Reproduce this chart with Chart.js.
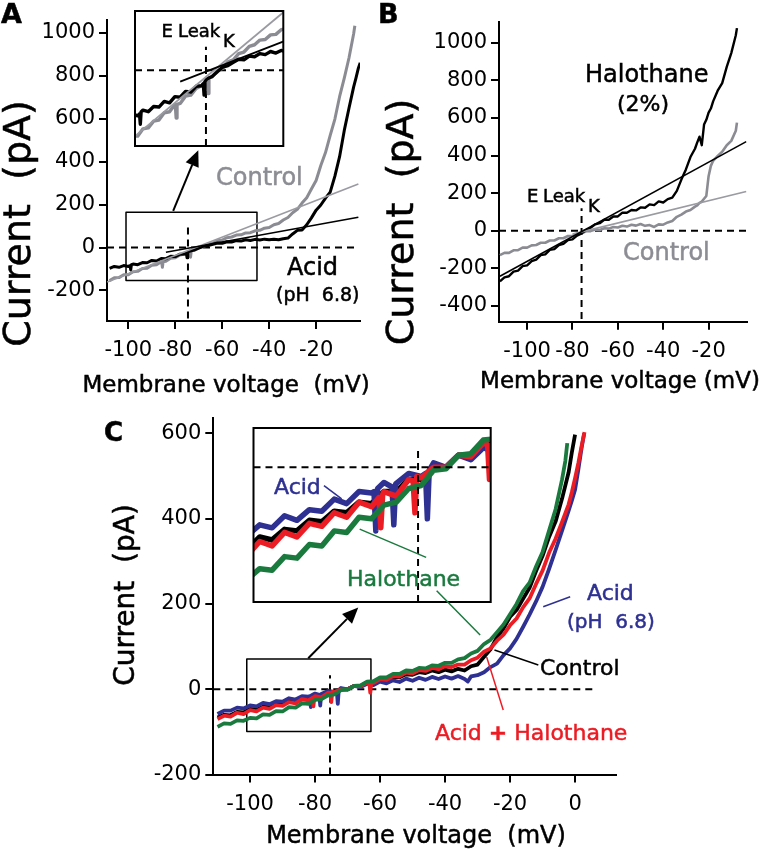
<!DOCTYPE html>
<html>
<head>
<meta charset="utf-8">
<script src="https://cdn.jsdelivr.net/npm/chart.js@4.4.0/dist/chart.umd.min.js"></script>
<style>
  body { margin: 0; background: #fff; }
  #wrap { position: relative; width: 762px; height: 853px; }
  #wrap canvas { position: absolute; left: 0; top: 0; }
</style>
</head>
<body>
<div id="wrap">
  <canvas id="mainA" width="762" height="853"></canvas>
  <canvas id="insetA" width="762" height="853"></canvas>
  <canvas id="mainB" width="762" height="853"></canvas>
  <canvas id="mainC" width="762" height="853"></canvas>
  <canvas id="insetC" width="762" height="853"></canvas>
</div>
<script>
// ---------- panel A : acid (pH 6.8) vs control ----------
const ticksAX = [-100, -80, -60, -40, -20];
const ticksAY = [-200, 0, 200, 400, 600, 800, 1000];

const acidAV = [-108,-106,-104,-102,-100,-99.3,-99,-98.7,-98,-96,-94,-92,-90,-88,-86,-84,-82,-80,-78,-76,
  -75.3,-75,-74.7,-74,-72,-70,-68,-66,-64,-62,-60,-58,-56,-54,-52,-50,-48,-46,-44,-42,-40,-38,-36,-34,
  -32,-30,-28,-26,-24,-22,-20,-18,-16,-14,-12,-10,-8,-6,-4,-3,-2,-1.2];
const acidAI = [-97,-88,-92,-84,-88,-84,-104,-80,-77,-80,-70,-71,-60,-63,-51,-52,-41,-42,-31,-30,
  -26,-48,-22,-17,-12,-3,6,9,15,21,20,27,26,32,30,36,33,38,35,39,36,39,36,41,
  44,63,80,82,106,138,174,198,230,258,332,423,545,648,748,790,835,860];

const ctrlAV = [-108,-106,-104,-102,-100,-98,-96,-94,-92,-90,-88,-86,-85.8,-85.5,-85.2,-84,-82,-80,-78,-76,
  -74,-73.8,-73.5,-73.2,-72,-70,-68,-66,-64,-62,-60,-58,-56,-54,-52,-50,-48,-46,-44,-42,-40,-38,-36,-34,
  -32,-30,-28,-26,-24,-22,-20,-18,-16,-14,-12,-10,-8,-6,-4,-3.5];
const ctrlAI = [-154,-141,-140,-127,-127,-113,-111,-98,-96,-82,-80,-66,-68,-92,-66,-64,-50,-48,-35,-30,
  -18,-17,-45,-15,-13,-1,4,16,20,32,35,46,49,58,59,68,69,78,80,90,93,106,112,128,
  140,162,178,207,232,272,312,382,442,522,598,702,788,882,995,1032];

const fitAcidAV = [-84, -2];
const fitAcidAI = [-22, 141];
const fitCtrlAV = [-109, -2];
const fitCtrlAI = [-161, 296];

// ---------- panel B : halothane (2%) vs control ----------
const ticksBX = [-100, -80, -60, -40, -20];
const ticksBY = [-400, -200, 0, 200, 400, 600, 800, 1000];

const voltB = [-112,-110,-108,-106,-104,-102,-100,-98,-96,-94,-92,-90,-88,-86,-84,-82,-80,-78,-76,-74,
  -72,-70,-68,-66,-64,-62,-60,-58,-56,-54,-52,-50,-48,-46,-44,-42,-40,-38,-36,-34,-32,-30,-28,-26,
  -25,-24,-23,-22,-21,-20,-19,-18,-16,-14,-12,-10,-8,-7.5];
const haloBI = [-270,-248,-242,-218,-212,-188,-184,-162,-154,-130,-126,-102,-98,-76,-70,-50,-46,-26,-14,4,
  16,34,40,58,58,76,76,96,96,110,108,124,122,140,136,156,150,168,176,212,272,326,392,436,
  470,500,455,565,590,628,650,688,745,785,872,945,1040,1078];
const ctrlBI = [-130,-118,-118,-104,-103,-90,-90,-78,-76,-64,-64,-52,-52,-40,-40,-28,-29,-16,-14,-3,
  -2,6,4,13,11,20,17,26,22,32,27,36,26,30,20,34,32,44,52,74,86,102,110,128,
  135,148,155,170,185,290,345,372,398,420,455,478,532,575];

const fitHaloBV = [-112, -3.4];
const fitHaloBI = [-242, 474];
const fitCtrlBV = [-80, -3.4];
const fitCtrlBI = [-18, 209];

// ---------- panel C : control, acid, halothane, acid + halothane ----------
const ticksCX = [-100, -80, -60, -40, -20, 0];
const ticksCY = [-200, 0, 200, 400, 600];

const acidCV = [-110,-108,-106,-104,-102,-100,-98,-96,-94,-92,-90,-88,-86,-84,-82,-81.6,-81.3,-81,-80,
  -78.7,-78.4,-78.1,-76,-74,-73.3,-73,-72.7,-72,-70,-68,-66,-64,-62,-60,-58,-56,-54,-52,-50,-48,-46,-44,
  -42,-40,-38,-36,-34,-33,-32,-30,-28,-26,-24,-22,-20,-18,-16,-14,-12,-10,-8,-6,-4,-2,-1,0,1,2,2.8];
const acidCI = [-58,-50,-50,-43,-45,-38,-40,-32,-35,-28,-29,-21,-24,-16,-17,-16,-42,-14,-10,
  -13,-38,-11,-4,-6,-4,-34,-2,3,0,8,5,13,10,18,14,21,17,25,20,27,22,29,
  24,30,25,31,24,18,30,33,40,52,60,80,96,118,146,175,206,240,282,326,372,418,442,468,515,565,600];

const acidHaloCV = [-110,-108,-106,-104,-102,-100,-98,-96,-94,-92,-90,-88,-86,-84,-82,-80.8,-80.5,-80.2,
  -80,-78,-76,-75.3,-75,-74.7,-74,-72,-70,-68,-66,-64,-63.3,-63,-62.7,-62,-60,-58,-56,-54,-52,-50,-48,
  -46,-44,-42,-40,-38,-36,-34,-32,-30,-28,-26,-24,-22,-20,-18,-16,-14,-12,-10,-8,-6,-4,-2,-1,0,1,2,2.9];
const acidHaloCI = [-70,-62,-64,-55,-58,-49,-52,-43,-46,-37,-39,-30,-33,-23,-26,-20,-40,-18,
  -16,-19,-8,-9,-30,-6,-7,0,0,8,7,16,15,-8,15,15,24,22,31,30,39,37,45,
  43,50,47,54,52,58,58,68,74,88,96,114,128,150,166,192,213,247,278,320,353,392,433,462,495,530,570,603];

const controlCV = [-110,-108,-106,-104,-102,-100,-98,-96,-94,-92,-90,-88,-86,-84,-82,-80,-78,-76,-74,-72,
  -70,-68,-66,-64,-62,-60,-58,-56,-54,-52,-50,-48,-46,-44,-42,-40,-38,-36,-34,-32,-30,-28,-26,-24,
  -22,-20,-18,-16,-14,-12,-10,-8,-6,-4,-2,-1,0];
const controlCI = [-66,-60,-61,-53,-54,-46,-48,-41,-42,-35,-36,-29,-30,-23,-24,-16,-16,-8,-8,0,
  0,8,8,16,16,23,22,29,28,35,34,40,38,44,40,46,42,48,44,54,58,76,94,122,
  143,170,186,212,238,277,313,357,393,447,508,555,597];

const haloCV = [-110,-108,-106,-104,-102,-100,-98,-96,-94,-92,-90,-88,-86,-84,-82,-80,-78,-76,-74,-72,
  -70,-68,-66,-64,-62,-60,-58,-56,-54,-52,-50,-48,-46,-44,-42,-40,-38,-36,-34,-32,-30,-28,-26,-24,
  -22,-20,-18,-16,-14,-12,-10,-8,-6,-4,-3,-2.4];
const haloCI = [-88,-80,-81,-73,-74,-67,-68,-59,-60,-51,-52,-42,-43,-33,-34,-25,-23,-14,-12,-2,
  -1,8,9,18,19,28,28,36,36,44,43,50,49,56,55,62,62,70,73,84,90,106,116,134,
  152,176,200,230,250,288,322,372,422,492,535,577];

const GRAY = '#8b8b93', GRAYTXT = '#8c8c94', BLUE = '#2e3192', RED = '#ec1c24', GREEN = '#1a7a3e';
const FONT = '"DejaVu Sans"';

Chart.defaults.font.family = FONT;

function pts(xs, ys) {
  return xs.map(function (x, i) { return { x: x, y: ys[i] }; });
}

function trace(xs, ys, color, width, dash) {
  return {
    data: pts(xs, ys), borderColor: color, borderWidth: width, borderDash: dash || [],
    showLine: true, pointRadius: 0, tension: 0, fill: false, borderJoinStyle: 'round'
  };
}

function dashed(xs, ys) { return trace(xs, ys, '#000', 2, [7, 5]); }

function axis(min, max, ticks, size, horizontal) {
  return {
    type: 'linear', min: min, max: max,
    afterBuildTicks: function (s) { s.ticks = ticks.map(function (v) { return { value: v }; }); },
    afterFit: function (s) { if (horizontal) s.height = size; else s.width = size; },
    border: { display: true, color: '#000', width: 2 },
    grid: { drawOnChartArea: false, drawTicks: true, tickLength: 8, color: '#000', lineWidth: 2 },
    ticks: {
      color: '#000', font: { size: 21 }, padding: horizontal ? 9 : 4,
      maxRotation: 0, autoSkip: false, callback: function (v) { return String(v); }
    }
  };
}

function hidden(min, max) { return { type: 'linear', display: false, min: min, max: max }; }

function drawText(ctx, t) {
  ctx.save();
  ctx.translate(t.x, t.y);
  if (t.rotate) ctx.rotate(-Math.PI / 2);
  ctx.fillStyle = t.color || '#000';
  ctx.strokeStyle = t.color || '#000';
  ctx.lineWidth = 0.5;
  ctx.textBaseline = t.baseline || 'alphabetic';
  ctx.textAlign = 'left';
  var parts = Array.isArray(t.text) ? t.text : [[t.text, t.bold]];
  var fonts = parts.map(function (p) { return (p[1] ? 'bold ' : '') + t.size + 'px ' + FONT; });
  var widths = parts.map(function (p, i) { ctx.font = fonts[i]; return ctx.measureText(p[0]).width; });
  var total = widths.reduce(function (a, b) { return a + b; }, 0);
  var x0 = t.align === 'center' ? -total / 2 : 0;
  parts.forEach(function (p, i) {
    ctx.font = fonts[i];
    ctx.fillText(p[0], x0, 0);
    ctx.strokeText(p[0], x0, 0);
    x0 += widths[i];
  });
  ctx.restore();
}

// texts are placed in page pixels, lines and arrows in the chart's own data units
const annot = {
  id: 'annot',
  beforeDatasetsDraw: function (chart, args, opts) {
    if (!opts.frame) return;
    var a = chart.chartArea, ctx = chart.ctx;
    ctx.save();
    ctx.fillStyle = '#fff';
    ctx.fillRect(a.left, a.top, a.right - a.left, a.bottom - a.top);
    ctx.restore();
  },
  afterDatasetsDraw: function (chart, args, opts) {
    var ctx = chart.ctx, sx = chart.scales.x, sy = chart.scales.y;
    ctx.save();
    if (opts.frame) {
      var a = chart.chartArea;
      ctx.strokeStyle = '#000'; ctx.lineWidth = 2;
      ctx.strokeRect(a.left, a.top, a.right - a.left, a.bottom - a.top);
    }
    (opts.lines || []).forEach(function (l) {
      var x1 = sx.getPixelForValue(l.from[0]), y1 = sy.getPixelForValue(l.from[1]);
      var x2 = sx.getPixelForValue(l.to[0]), y2 = sy.getPixelForValue(l.to[1]);
      ctx.strokeStyle = l.color || '#000'; ctx.fillStyle = l.color || '#000';
      ctx.lineWidth = l.width || 1.5;
      var ex = x2, ey = y2;
      if (l.arrow) {
        var ang = Math.atan2(y2 - y1, x2 - x1), L = 16, W = 7;
        ex = x2 - L * Math.cos(ang); ey = y2 - L * Math.sin(ang);
        ctx.beginPath();
        ctx.moveTo(x2, y2);
        ctx.lineTo(ex + W * Math.sin(ang), ey - W * Math.cos(ang));
        ctx.lineTo(ex - W * Math.sin(ang), ey + W * Math.cos(ang));
        ctx.closePath(); ctx.fill();
      }
      ctx.beginPath(); ctx.moveTo(x1, y1); ctx.lineTo(ex, ey); ctx.stroke();
    });
    (opts.texts || []).forEach(function (t) { drawText(ctx, t); });
    ctx.restore();
  }
};
Chart.register(annot);

function options(pad, scales, ann) {
  return {
    responsive: false, animation: false, devicePixelRatio: 1, events: [],
    layout: { padding: pad },
    plugins: { legend: { display: false }, tooltip: { enabled: false }, annot: ann },
    scales: scales
  };
}

function clipped(list) { return list.map(function (d) { d.clip = 0; return d; }); }

// ---------- A ----------
new Chart(document.getElementById('mainA'), {
  type: 'scatter',
  data: { datasets: [
    trace(fitAcidAV, fitAcidAI, '#000', 1.6),
    trace(fitCtrlAV, fitCtrlAI, '#9a9aa2', 1.6),
    trace(acidAV, acidAI, '#000', 3),
    trace(ctrlAV, ctrlAI, GRAY, 3),
    dashed([-109.1, -3.8], [0, 0]),
    dashed([-74.6, -74.6], [-330, 102]),
    trace([-101, -45.2, -45.2, -101, -101], [-153, -153, 164, 164, -153], '#000', 1.5)
  ] },
  options: options({ left: 0, top: 20, right: 402, bottom: 452 }, {
    x: axis(-109.1, -1.3, ticksAX, 80, true),
    y: axis(-342, 1059, ticksAY, 107, false)
  }, {
    lines: [{ from: [-80.9, 170.5], to: [-70.2, 453], width: 2, arrow: true }],
    texts: [
      { text: 'A', x: 1, y: 23, size: 27, bold: true },
      { text: 'Current  (pA)', x: 20.5, y: 223.5, size: 38, rotate: true, align: 'center', baseline: 'middle' },
      { text: 'Membrane voltage  (mV)', x: 226, y: 392, size: 23, align: 'center' },
      { text: 'Control', x: 216, y: 185, size: 24, color: GRAYTXT },
      { text: 'Acid', x: 287, y: 275, size: 24 },
      { text: '(pH  6.8)', x: 276, y: 301, size: 19 }
    ]
  })
});

new Chart(document.getElementById('insetA'), {
  type: 'scatter',
  data: { datasets: clipped([
    trace(fitAcidAV, fitAcidAI, '#000', 1.8),
    trace(fitCtrlAV, fitCtrlAI, '#9a9aa2', 1.8),
    trace(acidAV, acidAI, '#000', 3.4),
    trace(ctrlAV, ctrlAI, GRAY, 3.4),
    dashed([-101, -45.2], [0, 0]),
    dashed([-74.3, -74.3], [-146, 45])
  ]) },
  options: options({ left: 135, top: 11, right: 478.7, bottom: 707 }, {
    x: hidden(-101, -45.2), y: hidden(-146, 114)
  }, {
    frame: true,
    texts: [
      { text: 'E', x: 161.5, y: 36.7, size: 18 },
      { text: 'Leak', x: 178, y: 36.7, size: 18 },
      { text: 'K', x: 223, y: 46.7, size: 18 }
    ]
  })
});

// ---------- B ----------
new Chart(document.getElementById('mainB'), {
  type: 'scatter',
  data: { datasets: [
    trace(fitHaloBV, fitHaloBI, '#000', 1.6),
    trace(fitCtrlBV, fitCtrlBI, '#9a9aa2', 1.6),
    trace(voltB, haloBI, '#000', 2.4),
    trace(voltB, ctrlBI, GRAY, 2.6),
    dashed([-112.4, -3.4], [0, 0]),
    dashed([-76, -76], [-470, 120])
  ] },
  options: options({ left: 389, top: 21.7, right: 15.3, bottom: 451.3 }, {
    x: axis(-112.4, -3.2, ticksBX, 80, true),
    y: axis(-484, 1112, ticksBY, 110, false)
  }, {
    texts: [
      { text: 'B', x: 378, y: 23, size: 27, bold: true },
      { text: 'Current  (pA)', x: 403, y: 222, size: 38, rotate: true, align: 'center', baseline: 'middle' },
      { text: 'Membrane voltage (mV)', x: 620, y: 388, size: 23, align: 'center' },
      { text: 'Halothane', x: 585, y: 82, size: 24 },
      { text: '(2%)', x: 617, y: 111, size: 22 },
      { text: 'Control', x: 623, y: 260, size: 24, color: GRAYTXT },
      { text: 'E', x: 527, y: 202, size: 18 },
      { text: 'Leak', x: 543, y: 202, size: 18 },
      { text: 'K', x: 588, y: 212, size: 18 }
    ]
  })
});

// ---------- C ----------
function setsC(w) {
  return [
    trace(haloCV, haloCI, GREEN, w),
    trace(acidHaloCV, acidHaloCI, RED, w),
    trace(acidCV, acidCI, BLUE, w),
    trace(controlCV, controlCI, '#000', w)
  ];
}

new Chart(document.getElementById('mainC'), {
  type: 'scatter',
  data: { datasets: setsC(3.8).concat([
    dashed([-111.3, 5.6], [0, 0]),
    dashed([-75.4, -75.4], [-200, 33]),
    trace([-101, -62.8, -62.8, -101, -101], [-99, -99, 71, 71, -99], '#000', 1.5)
  ]) },
  options: options({ left: 103.3, top: 418.4, right: 146.3, bottom: 8.4 }, {
    x: axis(-111.3, 12.5, ticksCX, 70, true),
    y: axis(-200, 635, ticksCY, 110, false)
  }, {
    lines: [
      { from: [-82.1, 72.7], to: [-66.7, 191.7], width: 2, arrow: true },
      { from: [-11.3, 57], to: [-24.8, 92], color: '#000', width: 1.5 },
      { from: [-22.1, -48.5], to: [-27.2, 75.7], color: RED, width: 1.5 },
      { from: [-9.8, 193.6], to: [-1.5, 217], color: BLUE, width: 1.5 }
    ],
    texts: [
      { text: 'C', x: 104, y: 441, size: 26, bold: true },
      { text: 'Current  (pA)', x: 126.5, y: 595, size: 28, rotate: true, align: 'center', baseline: 'middle' },
      { text: 'Membrane voltage  (mV)', x: 416, y: 843, size: 24, align: 'center' },
      { text: 'Control', x: 540, y: 675, size: 22 },
      { text: [['Acid ', false], ['+', true], [' Halothane', false]], x: 435, y: 740, size: 22, color: RED },
      { text: 'Acid', x: 587, y: 600, size: 22, color: BLUE },
      { text: '(pH  6.8)', x: 567, y: 628, size: 20, color: BLUE }
    ]
  })
});

new Chart(document.getElementById('insetC'), {
  type: 'scatter',
  data: { datasets: clipped([
    dashed([-101, -62.8], [0, 0]),
    dashed([-74.5, -74.5], [-89, 12])
  ].concat(setsC(5.5))) },
  options: options({ left: 253.5, top: 428, right: 271.3, bottom: 251 }, {
    x: hidden(-101, -62.8), y: hidden(-89, 26)
  }, {
    frame: true,
    lines: [
      { from: [-89.65, -12.1], to: [-86.8, -20.9], color: BLUE, width: 1.5 },
      { from: [-83.9, -40.8], to: [-73.2, -59.5], color: GREEN, width: 1.5 },
      { from: [-71.5, -81.5], to: [-64.5, -110.8], color: GREEN, width: 1.5 }
    ],
    texts: [
      { text: 'Acid', x: 274, y: 494, size: 22, color: BLUE },
      { text: 'Halothane', x: 347, y: 585.7, size: 22, color: GREEN }
    ]
  })
});
</script>
</body>
</html>
